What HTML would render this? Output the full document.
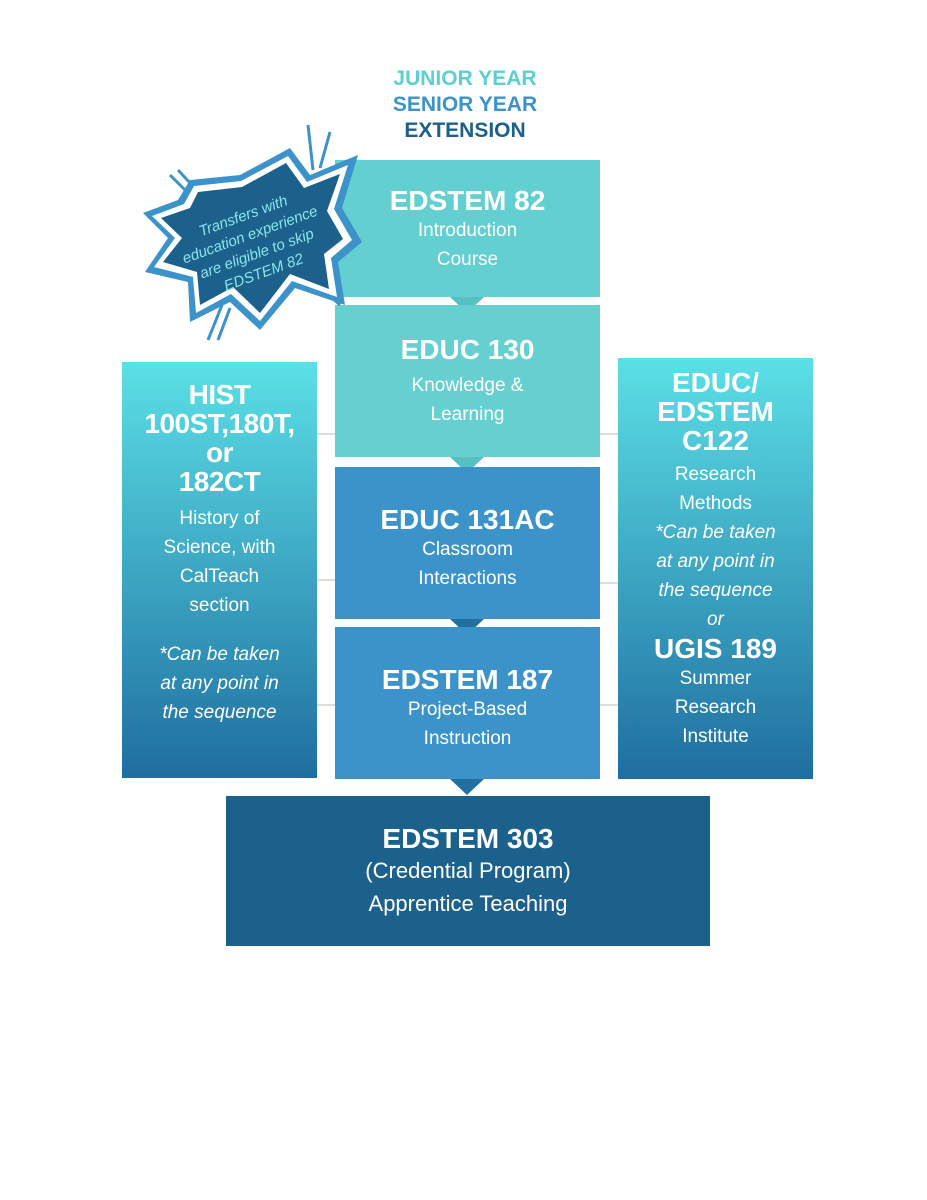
<!DOCTYPE html>
<html><head><meta charset="utf-8"><style>
body{margin:0;width:927px;height:1200px;background:#fff;position:relative;overflow:hidden;font-family:"Liberation Sans",sans-serif;color:#fff}
.b{position:absolute;text-align:center;box-sizing:border-box}
.h{font-weight:bold;font-size:28px;line-height:30px}
.t{font-size:19px;line-height:29px}
.i{font-style:italic}
.ln{position:absolute;height:2px;background:#ddd}
.tri{position:absolute;width:0;height:0;border-left:17px solid transparent;border-right:17px solid transparent;border-top:16px solid}
</style></head><body>
<div class="b" style="left:300px;top:66px;width:330px;font-weight:bold;font-size:21px;line-height:26px">
<div style="color:#5ccfd2">JUNIOR YEAR</div><div style="color:#3b93c9">SENIOR YEAR</div><div style="color:#1b618c">EXTENSION</div></div>

<div class="ln" style="left:317px;top:433px;width:18px"></div>
<div class="ln" style="left:317px;top:579px;width:18px"></div>
<div class="ln" style="left:317px;top:704px;width:18px"></div>
<div class="ln" style="left:600px;top:433px;width:18px"></div>
<div class="ln" style="left:600px;top:582px;width:18px"></div>
<div class="ln" style="left:600px;top:704px;width:18px"></div>

<div class="b" style="left:335px;top:160px;width:265px;height:137px;background:#63cfd0;padding-top:26px"><div class="h">EDSTEM 82</div><div class="t">Introduction<br>Course</div></div>
<div class="tri" style="left:450px;top:297px;border-top-color:#56bfc0"></div>
<div class="b" style="left:335px;top:305px;width:265px;height:152px;background:#66cfcf;padding-top:30px"><div class="h">EDUC 130</div><div class="t" style="margin-top:6px">Knowledge &amp;<br>Learning</div></div>
<div class="tri" style="left:450px;top:457px;border-top-color:#56bfc0"></div>
<div class="b" style="left:335px;top:467px;width:265px;height:152px;background:#3b93c9;padding-top:38px"><div class="h">EDUC 131AC</div><div class="t">Classroom<br>Interactions</div></div>
<div class="tri" style="left:450px;top:619px;border-top-color:#22709f"></div>
<div class="b" style="left:335px;top:627px;width:265px;height:152px;background:#3b93c9;padding-top:38px"><div class="h">EDSTEM 187</div><div class="t">Project-Based<br>Instruction</div></div>
<div class="tri" style="left:450px;top:779px;border-top-color:#22709f"></div>
<div class="b" style="left:226px;top:796px;width:484px;height:150px;background:#1b618c;padding-top:28px"><div class="h">EDSTEM 303</div><div style="font-size:22px;line-height:33px">(Credential Program)<br>Apprentice Teaching</div></div>

<div class="b" style="left:122px;top:362px;width:195px;height:416px;background:linear-gradient(#5be0e6,#1f6ea0);padding-top:18px"><div class="h" style="line-height:29px;letter-spacing:-0.5px">HIST<br>100ST,180T,<br>or<br>182CT</div><div class="t" style="margin-top:8px">History of<br>Science, with<br>CalTeach<br>section</div><div class="t i" style="margin-top:20px">*Can be taken<br>at any point in<br>the sequence</div></div>
<div class="b" style="left:618px;top:358px;width:195px;height:421px;background:linear-gradient(#5be0e6,#1f6ea0);padding-top:10px"><div class="h" style="line-height:29px">EDUC/<br>EDSTEM<br>C122</div><div class="t" style="margin-top:5px">Research<br>Methods</div><div class="t i">*Can be taken<br>at any point in<br>the sequence<br>or</div><div class="h">UGIS 189</div><div class="t">Summer<br>Research<br>Institute</div></div>

<svg style="position:absolute;left:140px;top:120px" width="230" height="225" viewBox="0 0 230 225">
<g stroke="#3b93c9" stroke-width="3"><line x1="168" y1="5" x2="173" y2="50"/><line x1="190" y1="12" x2="180" y2="48"/><line x1="30" y1="55" x2="55" y2="80"/><line x1="38" y1="50" x2="62" y2="76"/><line x1="68" y1="220" x2="82" y2="185"/><line x1="78" y1="220" x2="90" y2="188"/><line x1="200" y1="185" x2="178" y2="165"/></g>
<polygon fill="#3b93c9" points="50,60 100,55 150,28 170,55 218,35 202,88 222,122 198,142 205,185 155,168 120,210 90,182 50,202 48,162 5,152 28,118 3,93 38,80"/>
<polygon fill="#fff" points="54,66 101,61 148,36 167,62 208,45 194,89 212,120 191,138 197,177 152,161 120,201 91,174 56,193 53,157 14,147 35,118 12,96 44,84"/>
<polygon fill="#1b618c" points="58,72 102,67 146,43 164,68 200,54 187,91 203,119 184,134 189,169 150,154 120,193 93,167 60,185 57,152 23,142 42,118 21,98 50,88"/>
<text transform="translate(113,123) rotate(-20)" fill="#8be4ea" font-family="Liberation Sans,sans-serif" font-style="italic" font-size="15" text-anchor="middle"><tspan x="0" y="-24">Transfers with</tspan><tspan x="0" y="-4">education experience</tspan><tspan x="0" y="16">are eligible to skip</tspan><tspan x="0" y="36">EDSTEM 82</tspan></text>
</svg>
</body></html>
